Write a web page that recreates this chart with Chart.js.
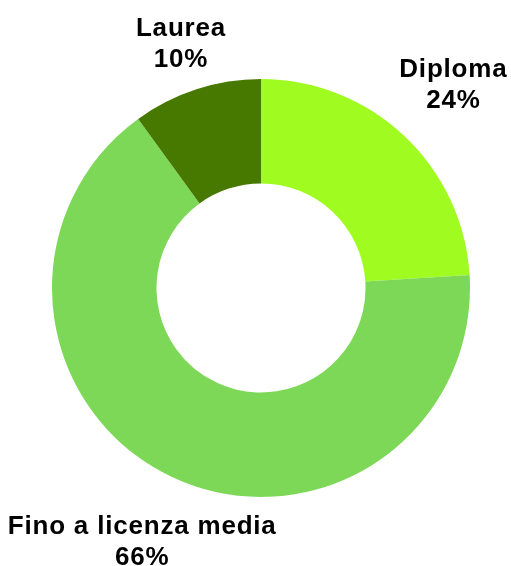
<!DOCTYPE html>
<html>
<head>
<meta charset="utf-8">
<script src="https://cdn.jsdelivr.net/npm/chart.js@4/dist/chart.umd.min.js"></script>
<style>
  html, body { margin: 0; padding: 0; background: #ffffff; }
  #wrap { width: 511px; height: 566px; position: relative; }
</style>
</head>
<body>
<div id="wrap"><canvas id="c" width="511" height="566"></canvas></div>
<script>
const categories = ["Diploma", "Fino a licenza media", "Laurea"];
const values = [24, 66, 10];
const colors = ["#a0fc20", "#7ed858", "#477800"];

const labelDist = [281, 279, 259];

const outsideLabels = {
  id: 'outsideLabels',
  afterDraw(chart) {
    const ctx = chart.ctx;
    const meta = chart.getDatasetMeta(0);
    const total = values.reduce((a, b) => a + b, 0);
    ctx.save();
    ctx.fillStyle = '#000000';
    ctx.font = 'bold 26px "Liberation Sans", Arial, sans-serif';
    try { ctx.letterSpacing = '0.8px'; } catch (e) {}
    ctx.textAlign = 'center';
    ctx.textBaseline = 'alphabetic';
    meta.data.forEach((arc, i) => {
      const mid = (arc.startAngle + arc.endAngle) / 2;
      const d = labelDist[i];
      const x = arc.x + Math.cos(mid) * d;
      const y = arc.y + Math.sin(mid) * d;
      const pct = Math.round(values[i] / total * 100) + '%';
      ctx.fillText(categories[i], x, y - 6);
      ctx.fillText(pct, x, y + 25);
    });
    ctx.restore();
  }
};

new Chart(document.getElementById('c'), {
  type: 'doughnut',
  data: {
    labels: categories,
    datasets: [{
      data: values,
      backgroundColor: colors,
      borderWidth: 0,
      hoverOffset: 0
    }]
  },
  options: {
    responsive: false,
    animation: false,
    cutout: '50%',
    layout: { padding: { top: 79, bottom: 69, left: 52, right: 41 } },
    plugins: {
      legend: { display: false },
      tooltip: { enabled: false }
    }
  },
  plugins: [outsideLabels]
});
</script>
</body>
</html>
